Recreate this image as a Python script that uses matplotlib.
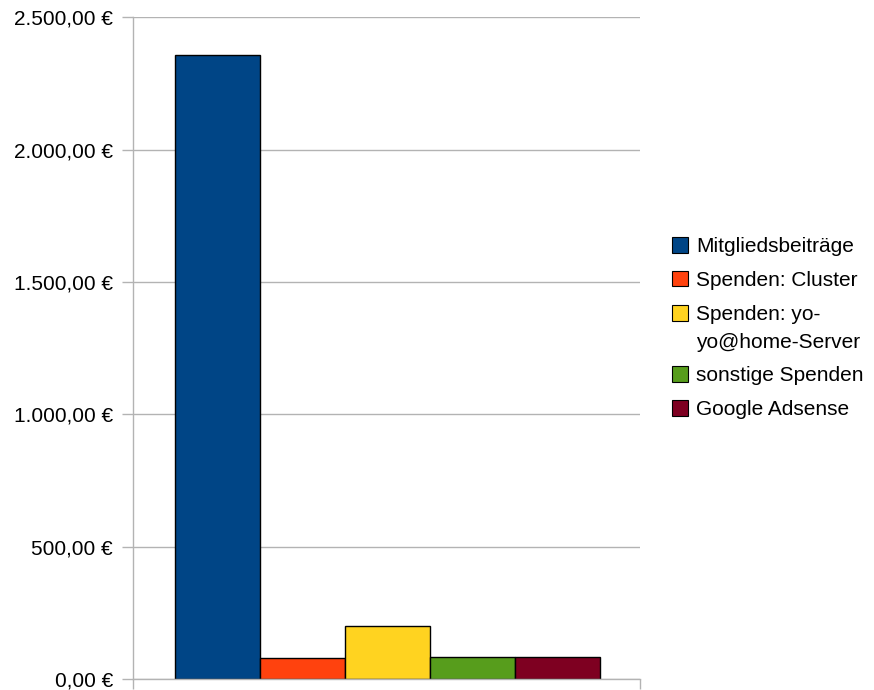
import matplotlib
matplotlib.use("Agg")
import matplotlib.pyplot as plt
import numpy as np
from matplotlib.patches import Patch, Rectangle
from matplotlib.legend_handler import HandlerPatch

plt.rcParams['font.family'] = ['Liberation Sans', 'DejaVu Sans']

categories = ["Mitgliedsbeiträge", "Spenden: Cluster", "Spenden: yo-\nyo@home-Server",
              "sonstige Spenden", "Google Adsense"]
values = [2357, 79, 202, 85, 83]
colors = ["#004586", "#ff420e", "#ffd320", "#579d1c", "#7e0021"]
yticks = [0, 500, 1000, 1500, 2000, 2500]
ytick_labels = ["0,00 €", "500,00 €", "1.000,00 €", "1.500,00 €", "2.000,00 €", "2.500,00 €"]

FS = 15

fig = plt.figure(figsize=(8.74, 6.9), dpi=100)
ax = fig.add_axes([133/874, (690-679.3)/690, 507/874, 662/690])

x = np.arange(len(values))
ax.bar(x, values, width=1.0, color=colors, edgecolor="black", linewidth=1.0, zorder=3)

ax.set_ylim(0, 2500)
ax.set_xlim(-0.99, 4.97)
ax.set_yticks(yticks)
ax.set_yticklabels(ytick_labels, fontsize=FS)
ax.yaxis.grid(True, color="#b3b3b3", linewidth=1.0, zorder=0)
ax.set_xticks([-0.99, 4.97])
ax.set_xticklabels(["", ""])
ax.tick_params(axis="y", length=8, color="#b3b3b3", width=1.0, pad=6.5)
ax.tick_params(axis="x", length=7.5, color="#b3b3b3", width=1.0)
for s in ["top", "right"]:
    ax.spines[s].set_visible(False)
for s in ["left", "bottom"]:
    ax.spines[s].set_color("#b3b3b3")
    ax.spines[s].set_linewidth(1.0)
    ax.spines[s].set_zorder(4)


class TopHandler(HandlerPatch):
    def __init__(self, offset, **kw):
        super().__init__(**kw)
        self.offset = offset

    def create_artists(self, legend, orig_handle, xdescent, ydescent, width, height,
                       fontsize, trans):
        p = Rectangle((-xdescent, -ydescent + self.offset), width, height)
        self.update_prop(p, orig_handle, legend)
        p.set_transform(trans)
        return [p]


handles = [Patch(facecolor=c, edgecolor="black", linewidth=0.8) for c in colors]
hmap = {handles[2]: TopHandler(offset=0.74 * FS)}
leg = fig.legend(handles, categories, loc="upper left", bbox_to_anchor=(672/874, 1 - 237/690),
                 frameon=False, fontsize=FS, handlelength=0.77, handleheight=0.77,
                 handletextpad=0.39, labelspacing=0.71, borderpad=0, borderaxespad=0,
                 handler_map=hmap)
for t in leg.get_texts():
    t.set_linespacing(1.6)

fig.savefig("out.png", dpi=100)
